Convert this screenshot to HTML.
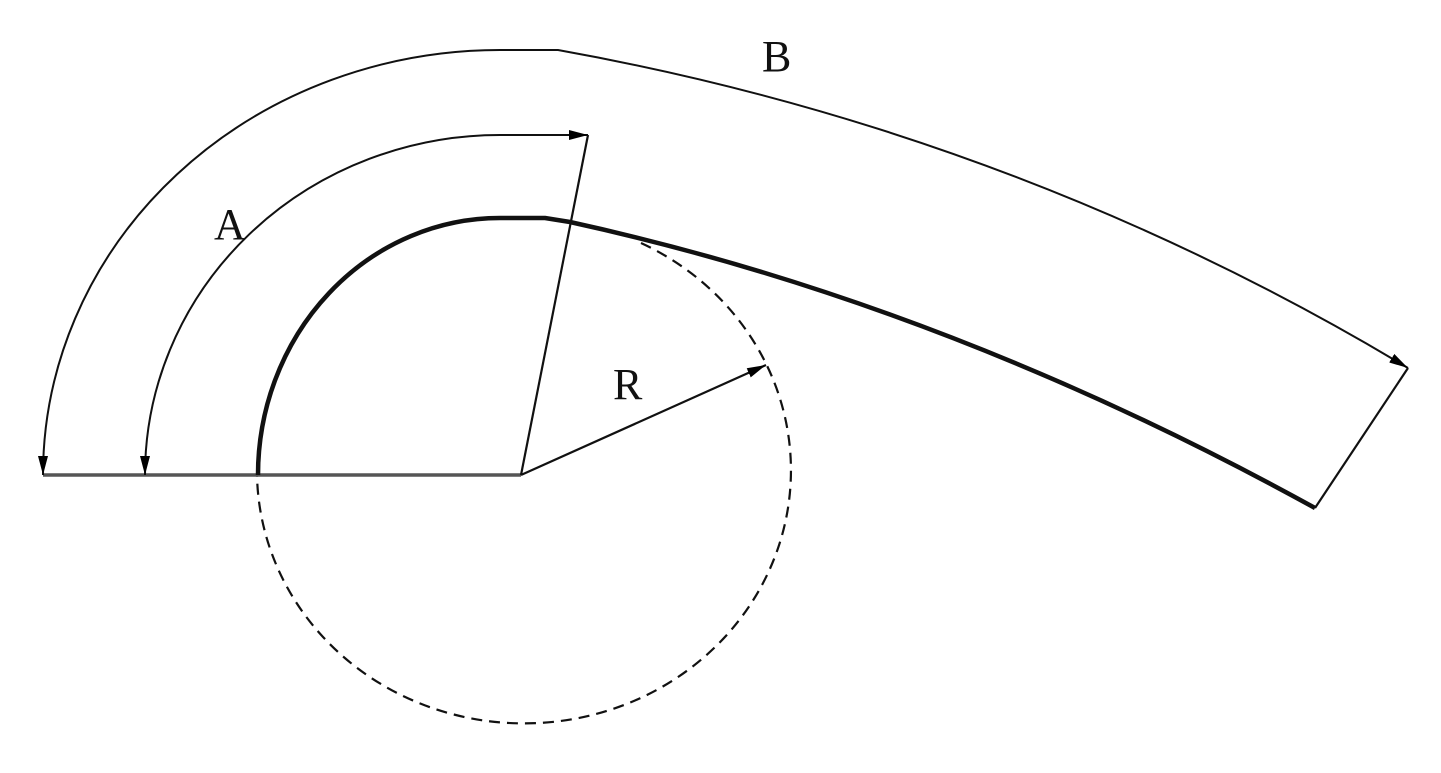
<!DOCTYPE html>
<html><head><meta charset="utf-8"><style>
html,body{margin:0;padding:0;background:#fff;}
svg{display:block;}
text{font-family:"Liberation Serif",serif;font-size:44px;fill:#111;}
</style></head><body>
<svg width="1441" height="773" viewBox="0 0 1441 773" xmlns="http://www.w3.org/2000/svg">
<defs>
<marker id="ar" markerUnits="userSpaceOnUse" markerWidth="22" markerHeight="12" refX="19" refY="5" orient="auto-start-reverse">
<path d="M0,0 L19,5 L0,10 z" fill="#000"/>
</marker>
</defs>
<g fill="none" stroke="#111" stroke-linejoin="round">
<!-- dashed circle -->
<path d="M641 243 A267 253 0 1 1 257 475" stroke-width="2.2" stroke-dasharray="11 7"/>
<!-- baseline -->
<path d="M43 475 L521 475" stroke="#555" stroke-width="3.5"/>
<!-- thick profile -->
<path d="M258 475 A242 257 0 0 1 500 218 L545 218 L570 222 Q945 304 1315 508" stroke-width="4.5"/>
<!-- A arc -->
<path d="M145 475 A355 340 0 0 1 500 135 L588 135" stroke-width="2" marker-start="url(#ar)" marker-end="url(#ar)"/>
<!-- B arc -->
<path d="M43 475 A457 425 0 0 1 500 50 L558 50 Q1015 132 1408 368" stroke-width="2" marker-start="url(#ar)" marker-end="url(#ar)"/>
<path d="M1408 368 L1315 508" stroke-width="2.2"/>
<!-- radial lines -->
<path d="M521 475 L588 135" stroke-width="2.2"/>
<path d="M521 475 L766 365" stroke-width="2.2" marker-end="url(#ar)"/>
</g>
<text x="214" y="239">A</text>
<text x="762" y="71">B</text>
<text x="613" y="399">R</text>
</svg>
</body></html>
